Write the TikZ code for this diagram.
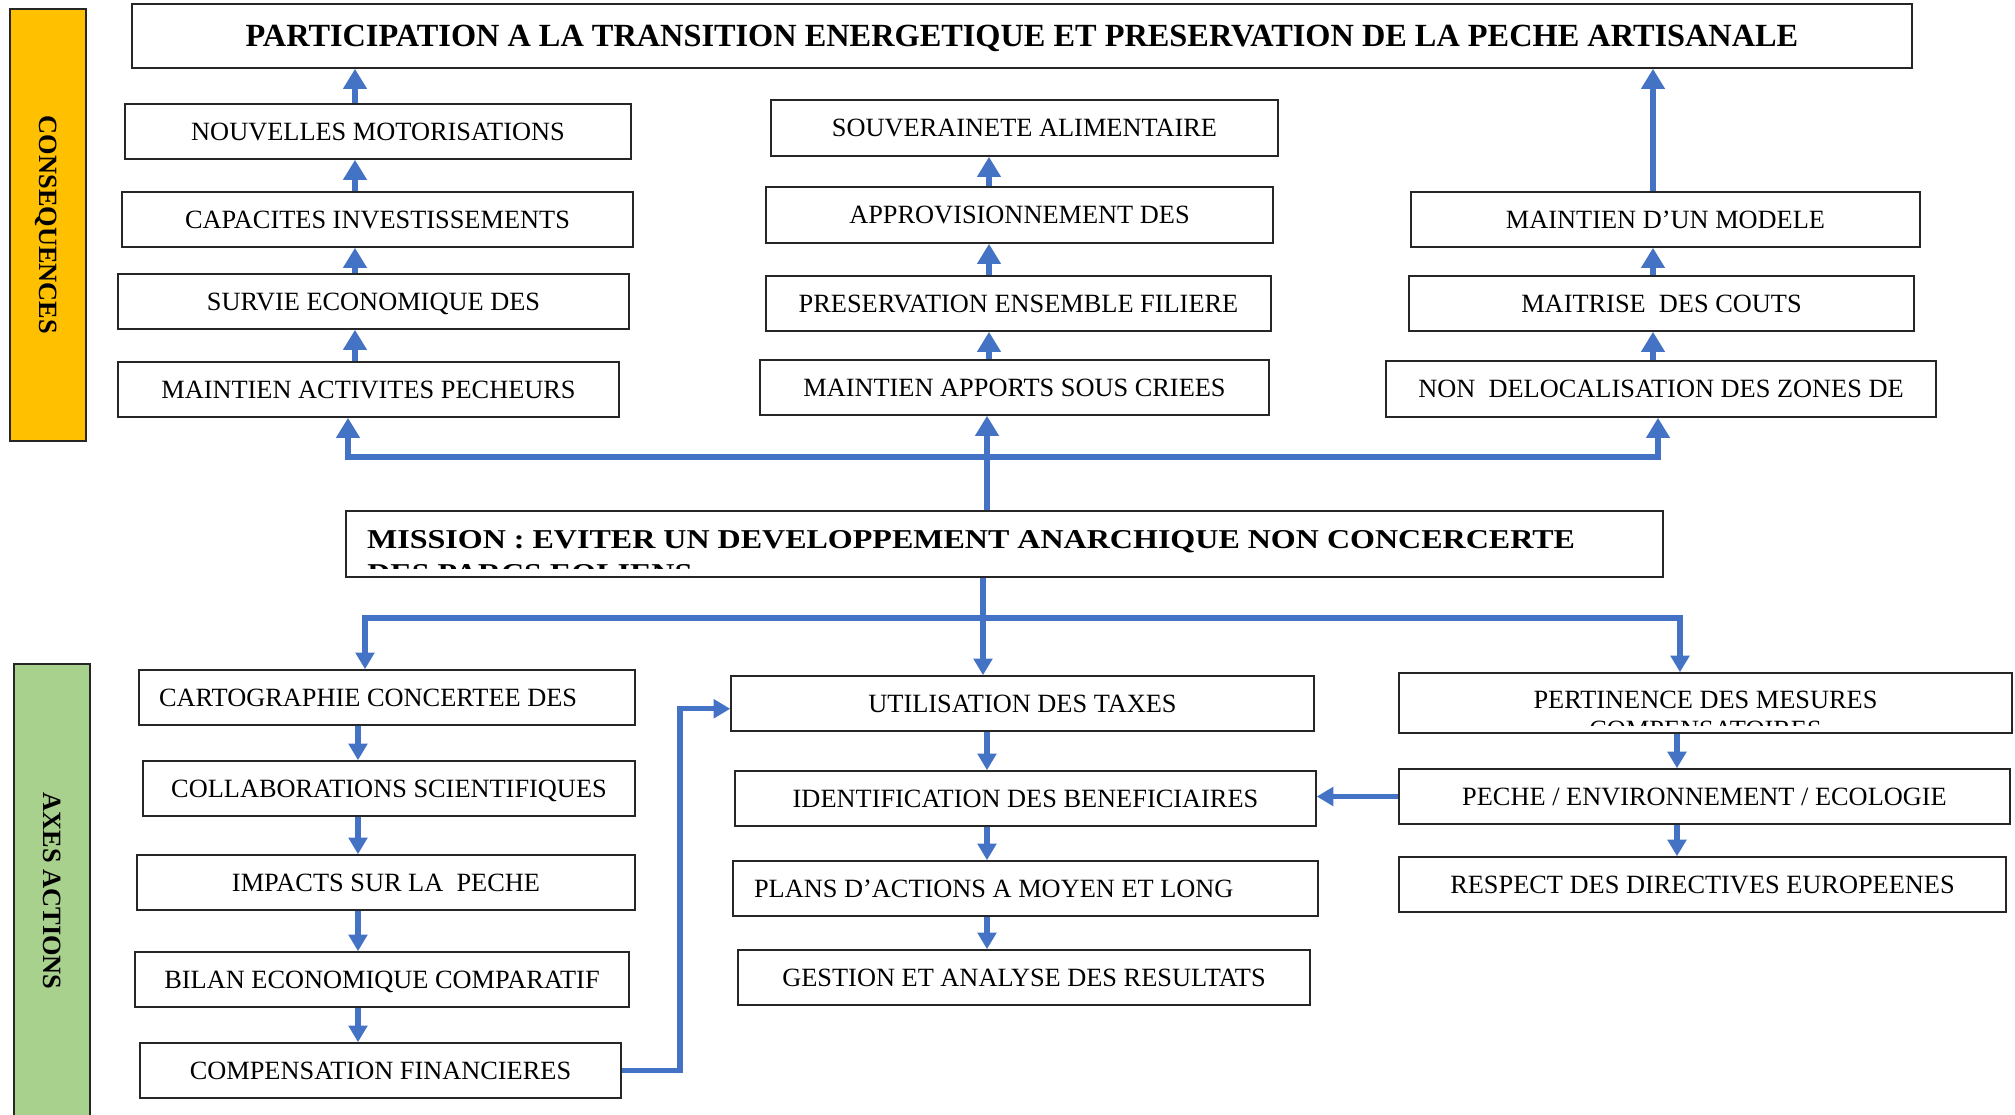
\documentclass[tikz,border=0pt]{standalone}
\usepackage{fontspec}
\setmainfont{Liberation Serif}
\usetikzlibrary{arrows.meta}
\definecolor{arrblue}{RGB}{68,114,196}
\definecolor{consyellow}{RGB}{255,192,0}
\definecolor{axegreen}{RGB}{169,209,142}

\begin{document}
\begin{tikzpicture}[x=0.02cm,y=-0.02cm,
    box/.style={draw=black!85,line width=0.9pt,fill=white,minimum height=1.1cm,inner sep=0pt,
      text height=10pt,text depth=0pt,font=\fontsize{15}{18}\selectfont},
    sidebar/.style={box,rotate=-90,minimum height=1.52cm,font=\fontsize{15}{18}\selectfont\bfseries},
    uparr/.style={draw=arrblue,line width=3.8pt,-{Triangle[width=13pt,length=11.5pt]}},
    dnarr/.style={draw=arrblue,line width=2.9pt,-{Triangle[width=10.5pt,length=9.5pt]}}]
  \useasboundingbox (0,0) rectangle (2015,1115);

  % side labels
  \node[sidebar,fill=consyellow,minimum width=8.64cm] (cons) at (48,225) {CONSEQUENCES};
  \node[sidebar,fill=axegreen,minimum width=9.08cm] (axes) at (52,891) {AXES ACTIONS};

  % consequences
  \node[box,minimum width=35.6cm,minimum height=1.28cm,text height=12.4pt,
    font=\fontsize{18.4}{22}\selectfont\bfseries] (title) at (1022,36)
    {PARTICIPATION A LA TRANSITION ENERGETIQUE ET PRESERVATION DE LA PECHE ARTISANALE};
  \node[box,minimum width=10.12cm] (l1) at (378,131.5) {NOUVELLES MOTORISATIONS};
  \node[box,minimum width=10.22cm] (l2) at (377.5,219.5) {CAPACITES INVESTISSEMENTS};
  \node[box,minimum width=10.22cm] (l3) at (373.5,301.5) {SURVIE ECONOMIQUE DES};
  \node[box,minimum width=10.02cm] (l4) at (368.5,389.5) {MAINTIEN ACTIVITES PECHEURS};
  \node[box,minimum width=10.14cm,minimum height=1.12cm] (m1) at (1024.5,128) {SOUVERAINETE ALIMENTAIRE};
  \node[box,minimum width=10.14cm,minimum height=1.12cm] (m2) at (1019.5,215) {APPROVISIONNEMENT DES};
  \node[box,minimum width=10.1cm] (m3) at (1018.5,303.5) {PRESERVATION ENSEMBLE FILIERE};
  \node[box,minimum width=10.18cm] (m4) at (1014.5,387.5) {MAINTIEN APPORTS SOUS CRIEES};
  \node[box,minimum width=10.18cm] (r1) at (1665.5,219.5) {MAINTIEN D’UN MODELE};
  \node[box,minimum width=10.1cm] (r2) at (1661.5,303.5) {MAITRISE\ \ DES COUTS};
  \node[box,minimum width=11cm,minimum height=1.12cm] (r3) at (1661,389) {NON\ \ DELOCALISATION DES ZONES DE};

  % mission
  \node[box,minimum width=26.34cm,minimum height=1.32cm,text width=25.5cm,inner xsep=0.42cm,
    align=flush left,text height=10.5pt,text depth=5.7pt,font=\fontsize{15.5}{19}\selectfont\bfseries] (mission)
    at (1004.5,544) {\scalebox{1.176}[1]{MISSION : EVITER UN DEVELOPPEMENT ANARCHIQUE NON CONCERCERTE}};
  \begin{scope}
    \clip (mission.north west) rectangle (1663,568);
    \node[anchor=base west,inner sep=0pt,font=\fontsize{15.5}{19}\selectfont\bfseries] (mfrag)
      at (367,582) {\scalebox{1.176}[1]{DES PARCS EOLIENS}};
  \end{scope}

  % axes actions
  \node[box,minimum width=9.92cm,text width=9.12cm,inner xsep=0.4cm,align=flush left] (b1) at (387,697.5) {CARTOGRAPHIE CONCERTEE DES};
  \node[box,minimum width=9.84cm] (b2) at (389,788.5) {COLLABORATIONS SCIENTIFIQUES};
  \node[box,minimum width=9.96cm] (b3) at (386,882.5) {IMPACTS SUR LA\ \ PECHE};
  \node[box,minimum width=9.88cm] (b4) at (382,979.5) {BILAN ECONOMIQUE COMPARATIF};
  \node[box,minimum width=9.62cm] (b5) at (380.5,1070.5) {COMPENSATION FINANCIERES};
  \node[box,minimum width=11.66cm] (c1) at (1022.5,703.5) {UTILISATION DES TAXES};
  \node[box,minimum width=11.62cm] (c2) at (1025.5,798.5) {IDENTIFICATION DES BENEFICIAIRES};
  \node[box,minimum width=11.7cm,text width=10.86cm,inner xsep=0.42cm,align=flush left] (c3) at (1025.5,888.5) {PLANS D’ACTIONS A MOYEN ET LONG};
  \node[box,minimum width=11.44cm] (c4) at (1024,977.5) {GESTION ET ANALYSE DES RESULTATS};
  \node[box,minimum width=12.26cm,minimum height=1.2cm,text depth=3.4pt] (d1) at (1705.5,703) {PERTINENCE DES MESURES};
  \begin{scope}
    \clip (d1.north west) rectangle (2012,725);
    \node[anchor=base,inner sep=0pt,font=\fontsize{15}{18}\selectfont] (dfrag) at (1705.5,738) {COMPENSATOIRES};
  \end{scope}
  \node[box,minimum width=12.22cm] (d2) at (1704.5,796.5) {PECHE / ENVIRONNEMENT / ECOLOGIE};
  \node[box,minimum width=12.14cm] (d3) at (1702.5,884.5) {RESPECT DES DIRECTIVES EUROPEENES};

  % columns of the arrows
  \coordinate (colL) at (355,0);
  \coordinate (colM) at (989,0);
  \coordinate (colR) at (1653,0);
  \coordinate (colBL) at (358,0);
  \coordinate (colBM) at (987,0);
  \coordinate (colBR) at (1677,0);

  \draw[uparr] (l4.north -| colL) -- (l3.south -| colL);
  \draw[uparr] (l3.north -| colL) -- (l2.south -| colL);
  \draw[uparr] (l2.north -| colL) -- (l1.south -| colL);
  \draw[uparr] (l1.north -| colL) -- (title.south -| colL);
  \draw[uparr] (m4.north -| colM) -- (m3.south -| colM);
  \draw[uparr] (m3.north -| colM) -- (m2.south -| colM);
  \draw[uparr] (m2.north -| colM) -- (m1.south -| colM);
  \draw[uparr] (r3.north -| colR) -- (r2.south -| colR);
  \draw[uparr] (r2.north -| colR) -- (r1.south -| colR);
  \draw[uparr] (r1.north -| colR) -- (title.south -| colR);

  % mission to consequences
  \coordinate (busL) at (348,457);
  \coordinate (busM) at (987,457);
  \coordinate (busR) at (1658,457);
  \draw[uparr] (busM) -- (busL) -- (l4.south -| busL);
  \draw[uparr] (busM) -- (busR) -- (r3.south -| busR);
  \draw[uparr] (mission.north -| busM) -- (m4.south -| busM);

  % mission to axes
  \coordinate (dbusL) at (365,618);
  \coordinate (dbusM) at (983,618);
  \coordinate (dbusR) at (1680,618);
  \draw[dnarr] (dbusM) -- (dbusL) -- (b1.north -| dbusL);
  \draw[dnarr] (dbusM) -- (dbusR) -- (d1.north -| dbusR);
  \draw[dnarr] (mission.south -| dbusM) -- (c1.north -| dbusM);

  \draw[dnarr] (b1.south -| colBL) -- (b2.north -| colBL);
  \draw[dnarr] (b2.south -| colBL) -- (b3.north -| colBL);
  \draw[dnarr] (b3.south -| colBL) -- (b4.north -| colBL);
  \draw[dnarr] (b4.south -| colBL) -- (b5.north -| colBL);
  \draw[dnarr] (c1.south -| colBM) -- (c2.north -| colBM);
  \draw[dnarr] (c2.south -| colBM) -- (c3.north -| colBM);
  \draw[dnarr] (c3.south -| colBM) -- (c4.north -| colBM);
  \draw[dnarr] (d1.south -| colBR) -- (d2.north -| colBR);
  \draw[dnarr] (d2.south -| colBR) -- (d3.north -| colBR);

  \coordinate (jog) at (680,0);
  \draw[dnarr] (b5.east) -- (b5.east -| jog) |- ([yshift=-3pt]c1.west);
  \draw[dnarr] (d2.west) -- (d2.west -| c2.east);
\end{tikzpicture}
\end{document}
